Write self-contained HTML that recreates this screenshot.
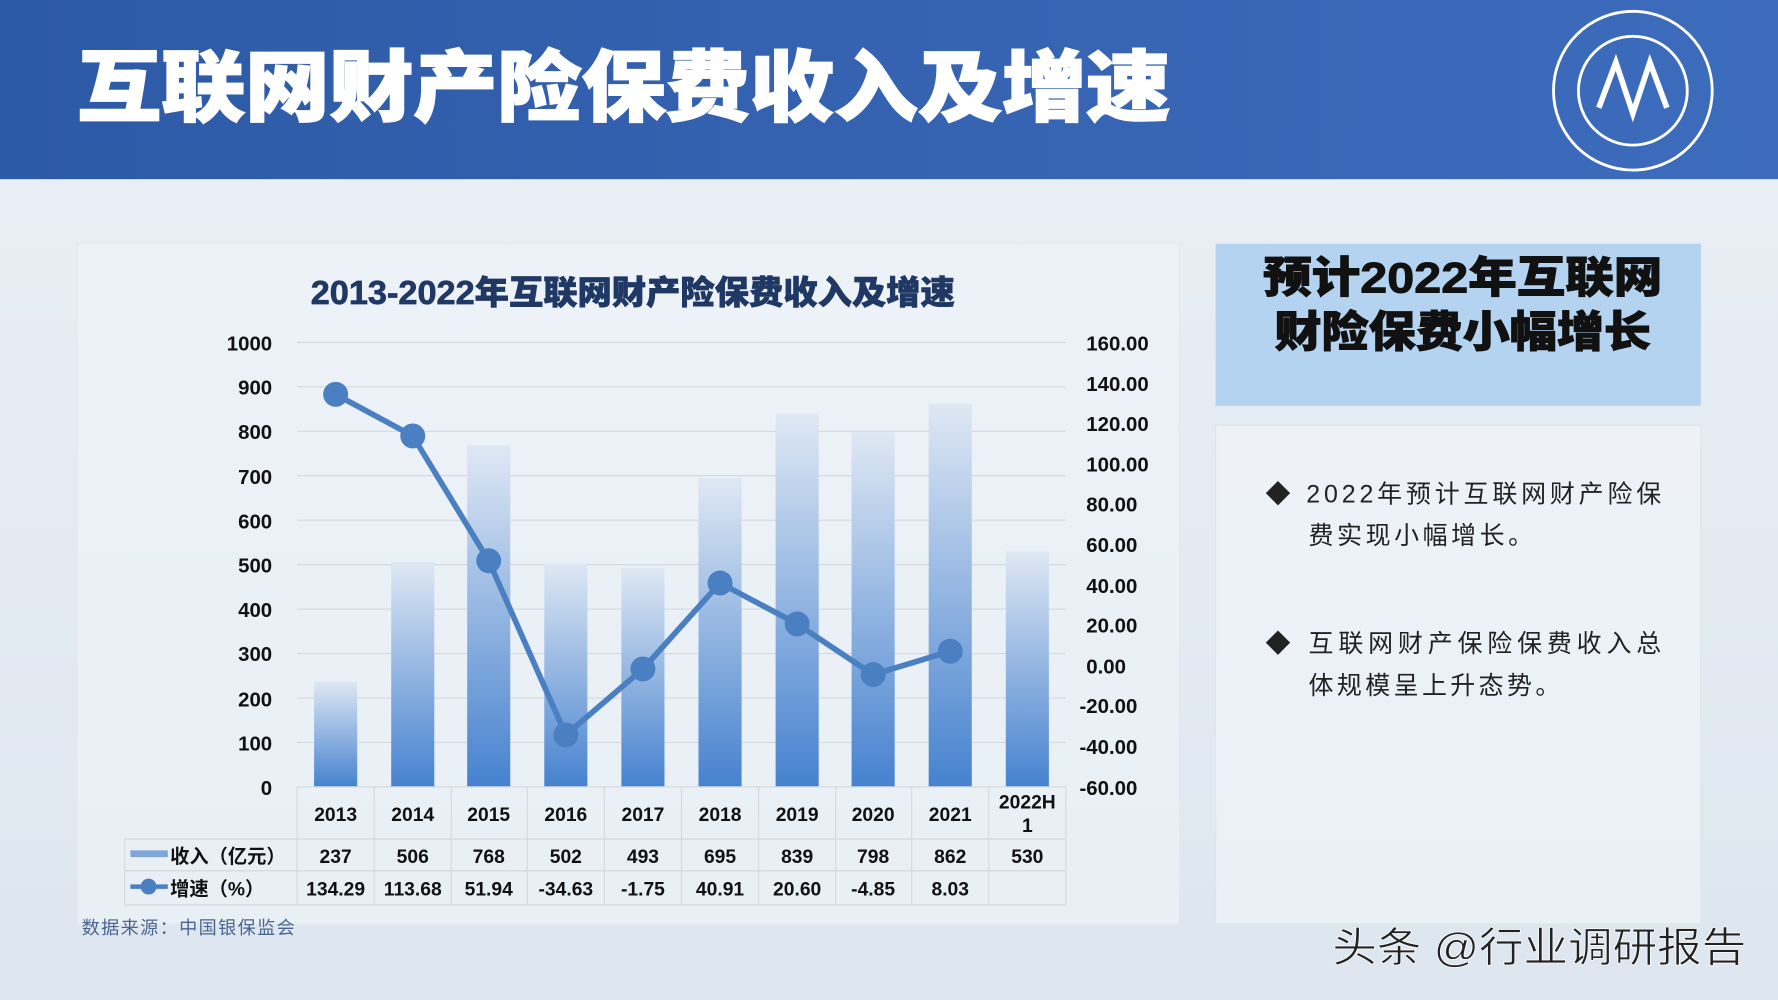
<!DOCTYPE html>
<html><head><meta charset="utf-8"><style>
html,body{margin:0;padding:0;width:1778px;height:1000px;overflow:hidden;background:#e8eef5}
svg{display:block}
text{font-family:"Liberation Sans","Noto Sans CJK SC",sans-serif}
</style></head><body>
<svg width="1778" height="1000" viewBox="0 0 1568 882" preserveAspectRatio="none">
<defs>
<linearGradient id="hd" x1="0" y1="0" x2="1" y2="0"><stop offset="0" stop-color="#2d5aa6"/><stop offset="1" stop-color="#3d6cbd"/></linearGradient>
<linearGradient id="bar" x1="0" y1="0" x2="0" y2="1"><stop offset="0" stop-color="#dfe8f4"/><stop offset="1" stop-color="#4682cf"/></linearGradient>
<linearGradient id="bg" x1="0" y1="0" x2="0" y2="1"><stop offset="0" stop-color="#e9eef5"/><stop offset="1" stop-color="#dde6ef"/></linearGradient>
</defs>
<rect x="0" y="158" width="1568" height="724" fill="url(#bg)"/>
<rect x="0" y="0" width="1568" height="158" fill="url(#hd)"/>
<text x="68" y="101" font-size="68" font-weight="900" fill="#fff" stroke="#fff" stroke-width="1.5" textLength="964" lengthAdjust="spacingAndGlyphs">互联网财产险保费收入及增速</text>
<g fill="none" stroke="#fff" stroke-width="2.5"><circle cx="1440" cy="80" r="70"/><circle cx="1440" cy="80" r="48"/><path d="M1410 95 L1425 55 L1440 100 L1455 55 L1470 95" stroke-width="5"/></g>
<rect x="68" y="215" width="972" height="600" fill="#f1f5fa" fill-opacity="0.55" stroke="#e4e9f0"/>
<text x="274" y="268" font-size="29" font-weight="900" fill="#1f3864" stroke="#1f3864" stroke-width="0.6" textLength="568" lengthAdjust="spacingAndGlyphs">2013-2022年互联网财产险保费收入及增速</text>
<g stroke="#d4d9e0" stroke-width="1">
<line x1="262" x2="940" y1="302" y2="302"/><line x1="262" x2="940" y1="341.2" y2="341.2"/><line x1="262" x2="940" y1="380.4" y2="380.4"/><line x1="262" x2="940" y1="419.6" y2="419.6"/><line x1="262" x2="940" y1="458.8" y2="458.8"/><line x1="262" x2="940" y1="498" y2="498"/><line x1="262" x2="940" y1="537.2" y2="537.2"/><line x1="262" x2="940" y1="576.4" y2="576.4"/><line x1="262" x2="940" y1="615.6" y2="615.6"/><line x1="262" x2="940" y1="654.8" y2="654.8"/>
</g>
<g font-size="18" font-weight="bold" fill="#111" text-anchor="end">
<text x="240" y="309">1000</text><text x="240" y="348">900</text><text x="240" y="387">800</text><text x="240" y="427">700</text><text x="240" y="466">600</text><text x="240" y="505">500</text><text x="240" y="544">400</text><text x="240" y="583">300</text><text x="240" y="623">200</text><text x="240" y="662">100</text><text x="240" y="701">0</text>
</g>
<g font-size="18" font-weight="bold" fill="#111">
<text x="958" y="309">160.00</text><text x="958" y="345">140.00</text><text x="958" y="380">120.00</text><text x="958" y="416">100.00</text><text x="958" y="451">80.00</text><text x="958" y="487">60.00</text><text x="958" y="523">40.00</text><text x="958" y="558">20.00</text><text x="958" y="594">0.00</text><text x="952" y="629">-20.00</text><text x="952" y="665">-40.00</text><text x="952" y="701">-60.00</text>
</g>
<g fill="url(#bar)">
<rect x="277" y="601.1" width="38" height="92.9"/>
<rect x="345" y="495.6" width="38" height="198.4"/>
<rect x="412" y="392.9" width="38" height="301.1"/>
<rect x="480" y="497.2" width="38" height="196.8"/>
<rect x="548" y="500.7" width="38" height="193.3"/>
<rect x="616" y="421.6" width="38" height="272.4"/>
<rect x="684" y="365.1" width="38" height="328.9"/>
<rect x="751" y="381.2" width="38" height="312.8"/>
<rect x="819" y="356.1" width="38" height="337.9"/>
<rect x="887" y="486.2" width="38" height="207.8"/>
</g>
<polyline fill="none" stroke="#4a7fc1" stroke-width="5" stroke-linejoin="round" points="296,347.8 364,384.5 431,494.6 499,648.2 567,590 635,514.2 703,550.3 770,595 838,574.4"/>
<g fill="#4a7fc1"><circle cx="296" cy="347.8" r="11"/><circle cx="364" cy="384.5" r="11"/><circle cx="431" cy="494.6" r="11"/><circle cx="499" cy="648.2" r="11"/><circle cx="567" cy="590" r="11"/><circle cx="635" cy="514.2" r="11"/><circle cx="703" cy="550.3" r="11"/><circle cx="770" cy="595" r="11"/><circle cx="838" cy="574.4" r="11"/></g>
<g stroke="#d4d9e0" stroke-width="1" fill="none">
<line x1="262" y1="694" x2="940" y2="694"/><line x1="110" y1="740" x2="940" y2="740"/><line x1="110" y1="768" x2="940" y2="768"/><line x1="110" y1="798" x2="940" y2="798"/>
<line x1="110" y1="740" x2="110" y2="798"/>
<line x1="262" y1="694" x2="262" y2="798"/><line x1="330" y1="694" x2="330" y2="798"/><line x1="398" y1="694" x2="398" y2="798"/><line x1="465" y1="694" x2="465" y2="798"/><line x1="533" y1="694" x2="533" y2="798"/><line x1="601" y1="694" x2="601" y2="798"/><line x1="669" y1="694" x2="669" y2="798"/><line x1="737" y1="694" x2="737" y2="798"/><line x1="804" y1="694" x2="804" y2="798"/><line x1="872" y1="694" x2="872" y2="798"/><line x1="940" y1="694" x2="940" y2="798"/>
</g>
<g font-size="17" font-weight="bold" fill="#111" text-anchor="middle">
<text x="296" y="724">2013</text><text x="364" y="724">2014</text><text x="431" y="724">2015</text><text x="499" y="724">2016</text><text x="567" y="724">2017</text><text x="635" y="724">2018</text><text x="703" y="724">2019</text><text x="770" y="724">2020</text><text x="838" y="724">2021</text><text x="906" y="713">2022H</text><text x="906" y="734">1</text>
<text x="296" y="761">237</text><text x="364" y="761">506</text><text x="431" y="761">768</text><text x="499" y="761">502</text><text x="567" y="761">493</text><text x="635" y="761">695</text><text x="703" y="761">839</text><text x="770" y="761">798</text><text x="838" y="761">862</text><text x="906" y="761">530</text>
<text x="296" y="790">134.29</text><text x="364" y="790">113.68</text><text x="431" y="790">51.94</text><text x="499" y="790">-34.63</text><text x="567" y="790">-1.75</text><text x="635" y="790">40.91</text><text x="703" y="790">20.60</text><text x="770" y="790">-4.85</text><text x="838" y="790">8.03</text>
</g>
<rect x="115" y="750" width="33" height="6" fill="#7fa6d8"/>
<line x1="115" y1="782" x2="148" y2="782" stroke="#4a7fc1" stroke-width="4"/><circle cx="131" cy="782" r="7" fill="#4a7fc1"/>
<g font-size="17" font-weight="bold" fill="#111"><text x="150" y="761">收入（亿元）</text><text x="150" y="790">增速（%）</text></g>
<text x="72" y="824" font-size="16" fill="#4a6690" font-family="Liberation Serif,Noto Serif CJK SC,serif" textLength="188">数据来源：中国银保监会</text>
<rect x="1072" y="215" width="428" height="143" fill="#b4d3f0"/>
<g font-size="38" font-weight="900" fill="#111" stroke="#111" stroke-width="0.8"><text x="1114" y="258" textLength="352" lengthAdjust="spacingAndGlyphs">预计2022年互联网</text><text x="1124" y="306" textLength="332" lengthAdjust="spacingAndGlyphs">财险保费小幅增长</text></g>
<rect x="1072" y="375" width="428" height="440" fill="#f4f7fb" fill-opacity="0.6" stroke="#dfe4ea"/>
<g font-size="22" fill="#222" font-family="Liberation Serif,Noto Serif CJK SC,serif">
<text x="1116" y="443">◆</text><text x="1152" y="443" textLength="313">2022年预计互联网财产险保</text><text x="1154" y="480" textLength="198">费实现小幅增长。</text>
<text x="1116" y="575">◆</text><text x="1154" y="575" textLength="311">互联网财产保险保费收入总</text><text x="1154" y="612" textLength="222">体规模呈上升态势。</text>
</g>
<text x="1175" y="848" font-size="36" fill="#222" stroke="#fff" stroke-width="0.6" textLength="365" lengthAdjust="spacingAndGlyphs">头条 @行业调研报告</text>
</svg>
</body></html>
